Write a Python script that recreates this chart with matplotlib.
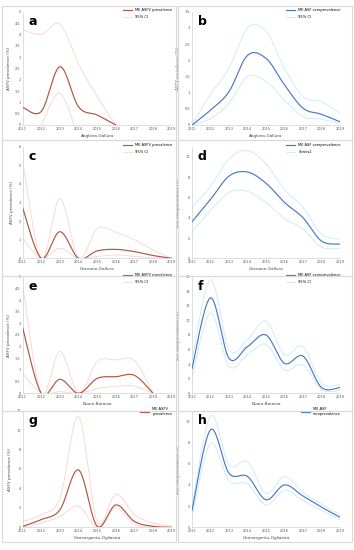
import matplotlib
matplotlib.use("Agg")
import matplotlib.pyplot as plt
import numpy as np
from matplotlib.patches import Rectangle

years = [2011, 2012, 2013, 2014, 2015, 2016, 2017, 2018, 2019]

# panel a - Anglona-Gallura, ASFV
a_mid = [0.78, 0.6, 2.57, 0.8, 0.44, 0.0, None, None, None]
a_hi = [4.2, 4.0, 4.45, 2.7, 1.25, 0.0, None, None, None]
a_lo = [None, 0.0, 1.4, -0.6, None, None, None, None, None]

# panel b - Anglona-Gallura, ASF serology
b_mid = [0.0, 0.46, 1.03, 2.15, 2.06, 1.24, 0.52, 0.33, 0.1]
b_hi = [0.0, 0.95, 1.75, 3.0, 2.9, 1.75, 0.88, 0.72, 0.36]
b_lo = [0.0, 0.2, 0.67, 1.5, 1.34, 0.77, 0.26, 0.18, 0.05]

# panel c - Goceano-Gallura, ASFV
c_mid = [2.7, 0.0, 1.43, 0.0, 0.4, 0.48, 0.36, 0.15, 0.0]
c_hi = [5.2, 0.0, 3.2, 0.0, 1.6, 1.4, 1.0, 0.45, 0.0]
c_lo = [1.07, 0.0, 0.54, 0.0, 0.1, 0.18, 0.1, 0.02, 0.0]

# panel d - Goceano-Gallura, ASF serology
d_mid = [3.6, 5.8, 8.1, 8.5, 7.4, 5.5, 4.0, 1.7, 1.4]
d_hi = [5.0, 7.1, 9.8, 10.6, 9.3, 6.8, 5.0, 2.4, 1.9]
d_lo = [2.6, 4.7, 6.5, 6.6, 5.5, 3.9, 2.9, 1.1, 1.0]

# panel e - Nuoro-Baronia, ASFV
e_mid = [2.8, 0.0, 0.6, 0.0, 0.64, 0.71, 0.77, 0.0, None]
e_hi = [4.6, 0.0, 1.8, 0.0, 1.36, 1.43, 1.4, 0.0, None]
e_lo = [0.86, 0.0, 0.07, 0.0, 0.2, 0.3, 0.3, 0.0, None]

# panel f - Nuoro-Baronia, ASF serology
f_mid = [3.4, 13.1, 4.8, 6.4, 8.0, 4.1, 5.1, 0.8, 0.8]
f_hi = [4.6, 15.6, 6.0, 7.4, 9.9, 5.3, 6.4, 1.4, 1.2]
f_lo = [2.3, 11.0, 3.7, 5.3, 6.7, 3.2, 3.9, 0.5, 0.4]

# panel g - Gennargentu-Ogliastra, ASFV
g_mid = [0.1, 0.8, 1.8, 5.9, 0.1, 2.3, 0.6, 0.1, 0.0]
g_hi = [0.6, 1.3, 3.0, 11.4, 0.6, 3.4, 1.3, 0.45, 0.1]
g_lo = [0.0, 0.45, 1.1, 2.2, 0.0, 2.0, 0.3, 0.0, 0.0]

# panel h - Gennargentu-Ogliastra, ASF serology
h_mid = [1.6, 9.2, 5.1, 4.8, 2.6, 4.0, 2.95, 1.9, 0.95]
h_hi = [1.9, 10.5, 5.9, 6.2, 3.2, 4.8, 3.3, 2.2, 1.2]
h_lo = [1.1, 7.9, 4.4, 4.1, 2.1, 3.5, 2.5, 1.6, 0.7]

RED = "#b0573f"
RED_CI = "#f7d3cf"
BLUE = "#4a78c8"
BLUE_CI = "#c6eaf6"


def smooth(xs, ys, n=40):
    # Catmull-Rom style smoothing, similar to Excel's smoothed lines
    pts = [(x, y) for x, y in zip(xs, ys) if y is not None]
    x = np.array([p[0] for p in pts], float)
    y = np.array([p[1] for p in pts], float)
    if len(x) < 3:
        return x, y
    px = np.concatenate([[x[0]], x, [x[-1]]])
    py = np.concatenate([[y[0]], y, [y[-1]]])
    t = np.linspace(0, 1, n)
    out_x, out_y = [], []
    for i in range(1, len(px) - 2):
        for arr, out in ((px, out_x), (py, out_y)):
            p0, p1, p2, p3 = arr[i - 1], arr[i], arr[i + 1], arr[i + 2]
            c1 = p1 + (p2 - p0) / 6
            c2 = p2 - (p3 - p1) / 6
            b = ((1 - t) ** 3 * p1 + 3 * (1 - t) ** 2 * t * c1
                 + 3 * (1 - t) * t ** 2 * c2 + t ** 3 * p2)
            out.extend(b)
    return np.array(out_x), np.array(out_y)


panels = [
    ("a", a_mid, a_hi, a_lo, "ASFV prevalence (%)", "Anglona-Gallura", 5, 0.5,
     ["ME ASFV prevalence", "95% CI"], "asfv"),
    ("b", b_mid, b_hi, b_lo, "ASFV prevalence (%)", "Anglona-Gallura", 3.5, 0.5,
     ["ME ASF seroprevalence", "95% CI"], "asf"),
    ("c", c_mid, c_hi, c_lo, "ASFV prevalence (%)", "Goceano-Gallura", 6, 1,
     ["ME ASFV prevalence", "95% CI"], "asfv"),
    ("d", d_mid, d_hi, d_lo, "ASF seroprevalence (%)", "Goceano-Gallura", 11, 2,
     ["ME ASF seroprevalence", "Series2"], "asf"),
    ("e", e_mid, e_hi, e_lo, "ASFV prevalence (%)", "Nuoro-Baronia", 5, 0.5,
     ["ME ASFV prevalence", "95% CI"], "asfv"),
    ("f", f_mid, f_hi, f_lo, "ASF seroprevalence (%)", "Nuoro-Baronia", 16, 2,
     ["ME ASF seroprevalence", "95% CI"], "asf"),
    ("g", g_mid, g_hi, g_lo, "ASFV prevalence (%)", "Gennargentu-Ogliastra", 12, 2,
     ["ME ASFV\nprevalence"], "asfv"),
    ("h", h_mid, h_hi, h_lo, "ASF seroprevalence (%)", "Gennargentu-Ogliastra", 11, 2,
     ["ME ASF\nseroprevalence"], "asf"),
]

fig = plt.figure(figsize=(3.54, 5.5), dpi=100)
W, H = 354.0, 550.0

# boxes around each panel (pixels: x0, y_top, x1, y_bottom)
boxes_y = [(6, 140), (140, 276), (276, 411), (411, 542)]
boxes_x = [(2, 176), (178, 352)]
# axes areas (pixels)
axes_x = [(22.7, 171.7), (192, 340)]
axes_y = [(11.7, 125), (146.7, 258.3), (276.7, 393.3), (410.7, 527.3)]

for r in range(4):
    for c in range(2):
        x0, x1 = boxes_x[c]
        y0, y1 = boxes_y[r]
        fig.patches.append(Rectangle((x0 / W, 1 - y1 / H), (x1 - x0) / W, (y1 - y0) / H,
                                     transform=fig.transFigure, fill=False,
                                     edgecolor="#d9d9d9", linewidth=0.8))

for k, (lab, mid, hi, lo, ylab, xlab, ytop, ystep, leg, kind) in enumerate(panels):
    r, c = divmod(k, 2)
    ax0, ax1 = axes_x[c]
    ay0, ay1 = axes_y[r]
    ax = fig.add_axes([ax0 / W, 1 - ay1 / H, (ax1 - ax0) / W, (ay1 - ay0) / H])
    col, cicol = (RED, RED_CI) if kind == "asfv" else (BLUE, BLUE_CI)

    mx, my = smooth(years, mid)
    ax.plot(mx, my, color=col, lw=0.85, label=leg[0], zorder=3)
    hx, hy = smooth(years, hi)
    ax.plot(hx, hy, color=cicol, lw=0.6, label=leg[1] if len(leg) > 1 else None)
    lx, ly = smooth(years, lo)
    ax.plot(lx, ly, color=cicol, lw=0.6)

    ax.set_xlim(2011, 2019)
    ax.set_ylim(0, ytop)
    ax.set_xticks(years)
    ticks = np.arange(0, ytop + 1e-9, ystep)
    ax.set_yticks(ticks)
    ax.set_yticklabels([("%g" % t) for t in ticks])
    ax.tick_params(labelsize=2.5, length=0, pad=1.5, colors="#555555")
    for s in ("top", "right"):
        ax.spines[s].set_visible(False)
    for s in ("left", "bottom"):
        ax.spines[s].set_color("#d0d0d0")
        ax.spines[s].set_linewidth(0.5)
    ax.set_ylabel(ylab, fontsize=3, color="#444444", labelpad=3)
    ax.set_xlabel(xlab, fontsize=3, color="#444444", labelpad=2)
    ax.text(0.04, 0.97, lab, transform=ax.transAxes, fontsize=9,
            fontweight="bold", va="top", ha="left")
    ax.legend(loc="upper right", fontsize=2.6, frameon=False, handlelength=2.5,
              borderaxespad=0.2, labelspacing=0.8, bbox_to_anchor=(1.02, 1.05))

fig.savefig("out.png", dpi=100)
